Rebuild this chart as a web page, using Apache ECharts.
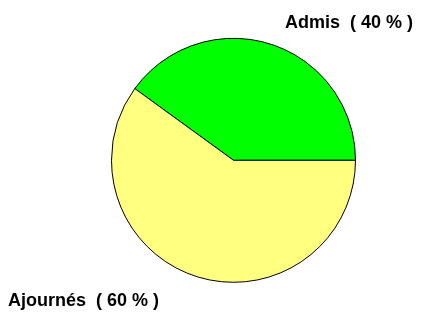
<!DOCTYPE html>
<html>
<head>
<meta charset="utf-8">
<script src="https://cdn.jsdelivr.net/npm/echarts@6/dist/echarts.min.js"></script>
<style>
    html, body { margin: 0; padding: 0; background: #fff; }
    #chart { width: 427px; height: 312px; }
</style>
</head>
<body>
<div id="chart"></div>
<script>
const categories = ["Admis", "Ajournés"];
const values = [40, 60];
const colors = ["#00ff00", "#ffff80"];

// where each label sits (left-aligned x, middle y)
const labelSpots = [
    { x: 285, y: 23 },
    { x: 8, y: 301 }
];

const chart = echarts.init(document.getElementById("chart"));

chart.setOption({
    animation: false,
    series: [{
        type: "pie",
        center: [233.5, 160.3],
        radius: 122,
        startAngle: 144,
        clockwise: true,
        silent: true,
        data: categories.map((name, i) => ({
            name: name,
            value: values[i],
            itemStyle: { color: colors[i] }
        })),
        itemStyle: {
            borderColor: "#000",
            borderWidth: 1
        },
        label: {
            show: true,
            formatter: "{b}  ( {d} % )",
            fontFamily: "Liberation Sans, Arial, sans-serif",
            fontWeight: "bold",
            fontSize: 18,
            color: "#000",
            overflow: "none",
            width: 200
        },
        labelLine: { show: false },
        labelLayout: function (params) {
            const spot = labelSpots[params.dataIndex];
            return {
                x: spot.x,
                y: spot.y,
                align: "left",
                verticalAlign: "middle"
            };
        }
    }]
});
</script>
</body>
</html>
